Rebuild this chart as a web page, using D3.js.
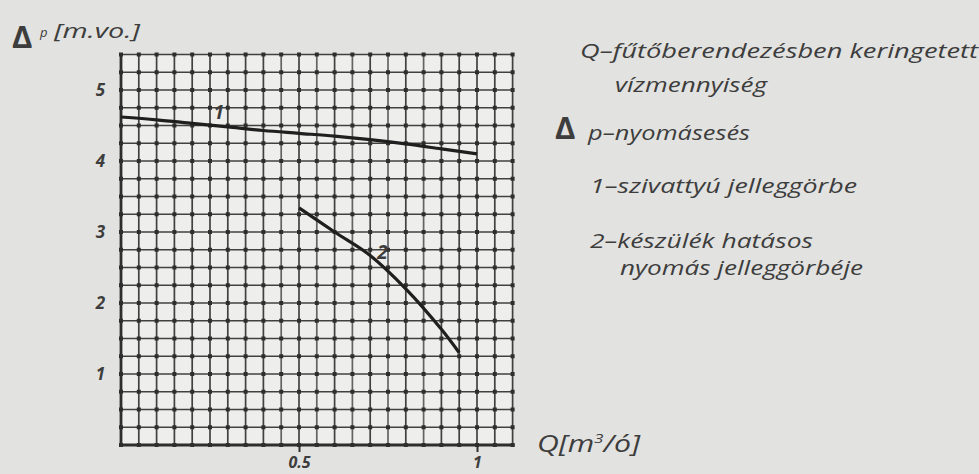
<!DOCTYPE html>
<html>
<head>
<meta charset="utf-8">
<script src="https://cdn.jsdelivr.net/npm/d3@7"></script>
<style>
  html, body {
    margin: 0;
    padding: 0;
    background: #e2e2e0;
  }
  svg {
    display: block;
    font-family: "Open Sans", Lato, sans-serif;
  }
  .ink {
    fill: #3d3d3d;
  }
</style>
</head>
<body>
<svg id="chart" width="979" height="474"></svg>
<script>
"use strict";

/********/
/* data */
/********/

// curve 1 - pump characteristic
const pumpQ = [0, 0.1, 0.2, 0.3, 0.4, 0.5, 0.6, 0.7, 0.8, 0.9, 1.0];
const pumpDp = [4.62, 4.58, 4.53, 4.48, 4.43, 4.39, 4.35, 4.3, 4.24, 4.17, 4.1];

// curve 2 - effective pressure of the device
const deviceQ = [0.5, 0.6, 0.7, 0.8, 0.9, 0.95];
const deviceDp = [3.34, 3.0, 2.67, 2.2, 1.63, 1.3];

const xTicks = [0.5, 1];
const xTickLabels = ["0.5", "1"];
const yTicks = [1, 2, 3, 4, 5];

const legendLines = [
  "Q–fűtőberendezésben keringetett",
  "vízmennyiség",
  "p–nyomásesés",
  "1–szivattyú jelleggörbe",
  "2–készülék hatásos",
  "nyomás jelleggörbéje",
];

/*********/
/* setup */
/*********/

const svg = d3.select("#chart");

const x = d3.scaleLinear().domain([0, 1.1]).range([121, 512.6]);
const y = d3.scaleLinear().domain([0, 5.5]).range([445, 54.5]);

const ink = "#2e2e2e";

/********/
/* grid */
/********/

svg
  .append("rect")
  .attr("x", x(0))
  .attr("y", y(5.5))
  .attr("width", x(1.1) - x(0))
  .attr("height", y(0) - y(5.5))
  .attr("fill", "#eeeeec");

const grid = svg.append("g").attr("stroke", ink).attr("stroke-width", 1.7);

grid
  .selectAll("line.v")
  .data(d3.range(0, 23).map(i => i * 0.05))
  .join("line")
  .attr("class", "v")
  .attr("x1", d => x(d))
  .attr("x2", d => x(d))
  .attr("y1", y(5.5))
  .attr("y2", y(0))
  .attr("stroke-opacity", (d, i) => (i > 8 && i < 18 && i % 2 ? 0.72 : 0.9));

grid
  .selectAll("line.h")
  .data(d3.range(0, 23).map(i => i * 0.25))
  .join("line")
  .attr("class", "h")
  .attr("x1", x(0))
  .attr("x2", x(1.1))
  .attr("y1", d => y(d))
  .attr("y2", d => y(d))
  .attr("stroke-opacity", 0.9);

// little crosses at the knots of the paper
const knots = [];
d3.range(0, 23).forEach(i => {
  d3.range(0, 23).forEach(j => knots.push([i * 0.05, j * 0.25]));
});
svg
  .append("g")
  .attr("fill", ink)
  .selectAll("rect")
  .data(knots)
  .join("rect")
  .attr("x", d => x(d[0]) - 2)
  .attr("y", d => y(d[1]) - 2)
  .attr("width", 4)
  .attr("height", 4);

/********/
/* axes */
/********/

const xAxis = svg
  .append("g")
  .attr("transform", `translate(0,${y(0)})`)
  .call(
    d3
      .axisBottom(x)
      .tickValues(xTicks)
      .tickSize(7)
      .tickPadding(5)
      .tickFormat((d, i) => xTickLabels[i]),
  );
xAxis.select(".domain").remove();
xAxis.selectAll("line").attr("stroke", ink).attr("stroke-width", 2);
xAxis
  .selectAll("text")
  .attr("class", "ink")
  .attr("font-family", "'Open Sans', sans-serif")
  .attr("font-size", 16)
  .attr("font-weight", "bold")
  .attr("font-style", "italic");

const yAxis = svg
  .append("g")
  .attr("transform", `translate(${x(0)},0)`)
  .call(
    d3
      .axisLeft(y)
      .tickValues(yTicks)
      .tickSize(0)
      .tickPadding(16)
      .tickFormat(d3.format("d")),
  );
yAxis.select(".domain").remove();
yAxis
  .selectAll("text")
  .attr("class", "ink")
  .attr("font-family", "'Open Sans', sans-serif")
  .attr("font-size", 17)
  .attr("font-weight", "bold")
  .attr("font-style", "italic");

svg
  .append("path")
  .attr("d", `M${x(0)},${y(5.5)}V${y(0)}H${x(1.1) + 2}`)
  .attr("fill", "none")
  .attr("stroke", ink)
  .attr("stroke-width", 2.8);

/**********/
/* curves */
/**********/

const line = d3
  .line()
  .x(d => x(d[0]))
  .y(d => y(d[1]))
  .curve(d3.curveCatmullRom.alpha(0.5));

svg
  .append("path")
  .datum(d3.zip(pumpQ, pumpDp))
  .attr("d", line)
  .attr("fill", "none")
  .attr("stroke", "#1f1f1f")
  .attr("stroke-width", 3.2);

svg
  .append("path")
  .datum(d3.zip(deviceQ, deviceDp))
  .attr("d", line)
  .attr("fill", "none")
  .attr("stroke", "#1f1f1f")
  .attr("stroke-width", 3.2);

svg
  .append("text")
  .attr("class", "ink")
  .attr("x", x(0.26))
  .attr("y", y(4.57) - 2)
  .attr("font-size", 19)
  .attr("font-weight", "bold")
  .attr("font-style", "italic")
  .text("1");

svg
  .append("text")
  .attr("class", "ink")
  .attr("x", x(0.72))
  .attr("y", y(2.62))
  .attr("font-size", 19)
  .attr("font-weight", "bold")
  .attr("font-style", "italic")
  .text("2");

/**********/
/* titles */
/**********/

svg
  .append("text")
  .attr("class", "ink")
  .attr("x", 12)
  .attr("y", 48)
  .attr("font-size", 31)
  .attr("font-weight", "bold")
  .text("Δ");

svg
  .append("text")
  .attr("class", "ink")
  .attr("x", 40)
  .attr("y", 37)
  .attr("font-size", 13)
  .attr("font-style", "italic")
  .text("p");

svg
  .append("text")
  .attr("class", "ink")
  .attr("x", 54)
  .attr("y", 38)
  .attr("font-size", 20)
  .attr("font-style", "italic")
  .attr("textLength", 86)
  .attr("lengthAdjust", "spacingAndGlyphs")
  .text("[m.vo.]");

const xTitle = svg
  .append("text")
  .attr("class", "ink")
  .attr("x", 537)
  .attr("y", 452)
  .attr("font-size", 23)
  .attr("font-style", "italic")
  .attr("textLength", 103)
  .attr("lengthAdjust", "spacingAndGlyphs");
xTitle.append("tspan").text("Q[m");
xTitle.append("tspan").attr("font-size", 13).attr("dy", -9).text("3");
xTitle.append("tspan").attr("dy", 9).text("/ó]");

/**********/
/* legend */
/**********/

const legendPos = [
  [580, 58, 398],
  [615, 92, 152],
  [588, 140, 162],
  [590, 193, 267],
  [590, 248, 223],
  [620, 275, 243],
];

const legend = svg
  .append("g")
  .attr("font-size", 20)
  .attr("font-style", "italic");

legend
  .selectAll("text")
  .data(legendLines)
  .join("text")
  .attr("class", "ink")
  .attr("x", (d, i) => legendPos[i][0])
  .attr("y", (d, i) => legendPos[i][1])
  .attr("textLength", (d, i) => legendPos[i][2])
  .attr("lengthAdjust", "spacingAndGlyphs")
  .text(d => d);

legend
  .append("text")
  .attr("class", "ink")
  .attr("x", 555)
  .attr("y", 139)
  .attr("font-size", 31)
  .attr("font-weight", "bold")
  .attr("font-style", "normal")
  .text("Δ");
</script>
</body>
</html>
